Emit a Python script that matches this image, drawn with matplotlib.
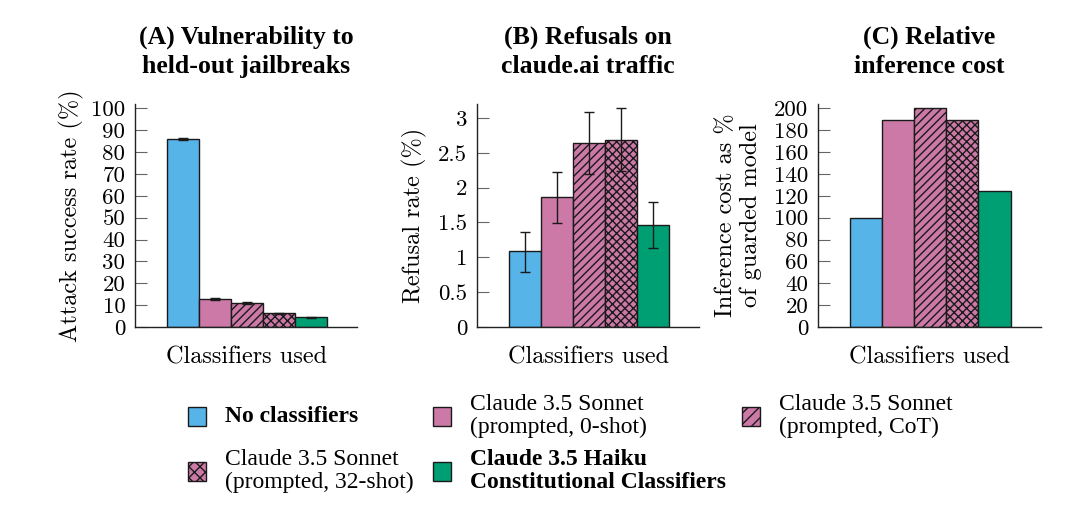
import matplotlib
matplotlib.use('Agg')
import matplotlib.pyplot as plt
from matplotlib.patches import Rectangle
from matplotlib.ticker import FuncFormatter, MultipleLocator
import numpy as np

plt.rcParams['axes.formatter.use_mathtext'] = True
plt.rcParams['hatch.linewidth'] = 1.0

# classifiers, left to right
labels = ['No classifiers',
          'Claude 3.5 Sonnet\n(prompted, 0-shot)',
          'Claude 3.5 Sonnet\n(prompted, CoT)',
          'Claude 3.5 Sonnet\n(prompted, 32-shot)',
          'Claude 3.5 Haiku\nConstitutional Classifiers']
colors = ['#56B4E9', '#CC79A7', '#CC79A7', '#CC79A7', '#009E73']
hatches = ['', '', '////', 'xxxx', '']
legend_hatches = ['', '', '///', 'xxx', '']
bold = [True, False, False, False, True]

# (A) attack success rate (%)
asr = [86.0, 12.9, 11.1, 6.2, 4.4]
asr_err = [0.5, 0.5, 0.4, 0.3, 0.3]

# (B) refusal rate (%)
refusal = [1.09, 1.86, 2.64, 2.69, 1.46]
refusal_lo = [0.30, 0.37, 0.44, 0.45, 0.33]
refusal_hi = [0.28, 0.37, 0.45, 0.45, 0.34]

# (C) inference cost as % of guarded model
cost = [100, 189, 200, 189, 124]

W, H = 1086, 521
fig = plt.figure(figsize=(W / 100, H / 100), dpi=100)

tick_font = 'cmr10'
label_size = 17.5
tick_size = 16.5
title_size = 18.5


def make_panel(left, width, vals, err, ylim, step, ylabel, title, fmt, lab_x):
    ax = fig.add_axes([left / W, 1 - 327 / H, width / W, 223 / H])
    x = np.arange(len(vals))
    for i in range(len(vals)):
        ax.bar(x[i], vals[i], width=1.0, color=colors[i], edgecolor='#1a1a1a',
               linewidth=1.0, hatch=hatches[i], zorder=2)
    if err is not None:
        ax.errorbar(x, vals, yerr=err, fmt='none', ecolor='#1a1a1a',
                    elinewidth=1.0, capsize=3.5, capthick=1.0, zorder=3)
    ax.set_xlim(-1.5, 5.45)
    ax.set_ylim(*ylim)
    ax.set_xticks([])
    ax.yaxis.set_major_locator(MultipleLocator(step))
    ax.yaxis.set_major_formatter(FuncFormatter(fmt))
    ax.tick_params(axis='y', direction='in', length=8.4, width=0.8,
                   color='#666666', pad=7, labelsize=tick_size)
    for t in ax.get_yticklabels():
        t.set_fontfamily(tick_font)
    for s in ['top', 'right']:
        ax.spines[s].set_visible(False)
    for s in ['left', 'bottom']:
        ax.spines[s].set_linewidth(1.0)
        ax.spines[s].set_color('#222222')
    ax.set_ylabel(ylabel, fontfamily=tick_font, fontsize=label_size,
                  linespacing=1.15)
    ax.yaxis.set_label_coords(lab_x, 0.5)
    ax.set_xlabel('Classifiers used', fontfamily=tick_font, fontsize=label_size)
    ax.xaxis.set_label_coords(0.5, -0.085)
    ax.set_title(title, fontfamily='Liberation Serif', fontweight='bold',
                 fontsize=title_size, pad=22, linespacing=1.38)
    return ax


make_panel(135, 222, asr, asr_err, (0, 102), 10,
           'Attack success rate (%)',
           '(A) Vulnerability to\nheld-out jailbreaks',
           lambda v, p: '%d' % v, -0.228)
make_panel(477, 222, refusal, [refusal_lo, refusal_hi], (0, 3.2), 0.5,
           'Refusal rate (%)',
           '(B) Refusals on\nclaude.ai traffic',
           lambda v, p: '%g' % v, -0.223)
make_panel(818, 223, cost, None, (0, 204), 20,
           'Inference cost as %\nof guarded model',
           '(C) Relative\ninference cost',
           lambda v, p: '%d' % v, -0.25)

# legend laid out as a 3-column grid
col_x = [188, 433, 742]
row_y = [416, 471]
slots = [(0, 0), (1, 0), (2, 0), (0, 1), (1, 1)]
for i, (c, r) in enumerate(slots):
    px, py = col_x[c], row_y[r]
    fig.add_artist(Rectangle((px / W, 1 - (py + 9.5) / H), 18 / W, 19 / H,
                             transform=fig.transFigure, facecolor=colors[i],
                             edgecolor='#1a1a1a', linewidth=1.0,
                             hatch=legend_hatches[i]))
    fig.text((px + 37) / W, 1 - py / H, labels[i], fontfamily='Liberation Serif',
             fontsize=17, fontweight='bold' if bold[i] else 'normal',
             va='center', ha='left', linespacing=1.1)

fig.savefig('out.png', dpi=100)
